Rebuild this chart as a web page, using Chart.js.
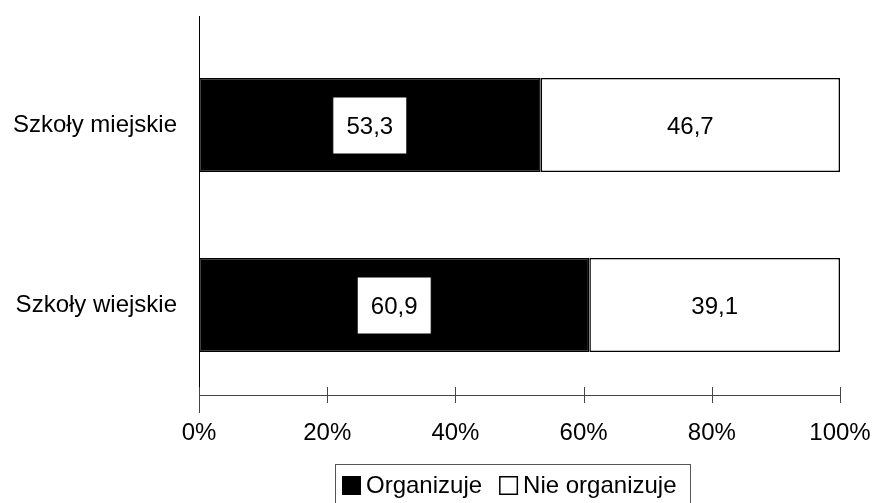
<!DOCTYPE html>
<html>
<head>
<meta charset="utf-8">
<script src="https://cdn.jsdelivr.net/npm/chart.js@4"></script>
<style>
  html, body { margin: 0; padding: 0; background: #fff; }
  #wrap { width: 874px; height: 503px; }
</style>
</head>
<body>
<div id="wrap"><canvas id="schoolsChart"></canvas></div>
<script>
const categories = ['Szkoły miejskie', 'Szkoły wiejskie'];
const organizuje = [53.3, 60.9];
const nieOrganizuje = [46.7, 39.1];
const seriesNames = ['Organizuje', 'Nie organizuje'];
const xTicks = [0, 20, 40, 60, 80, 100];

const FONT = "'Liberation Sans', Arial, sans-serif";

// etykiety wartości na słupkach
const valueLabels = {
    id: 'valueLabels',
    afterDatasetsDraw(chart) {
        const ctx = chart.ctx;
        ctx.save();
        ctx.font = '24px ' + FONT;
        ctx.textAlign = 'center';
        ctx.textBaseline = 'middle';
        chart.data.datasets.forEach(function (ds, di) {
            const meta = chart.getDatasetMeta(di);
            meta.data.forEach(function (bar, i) {
                const cx = (bar.x + bar.base) / 2;
                const cy = bar.y;
                const txt = ds.data[i].toFixed(1).replace('.', ',');
                if (di === 0) {
                    ctx.fillStyle = '#fff';
                    ctx.fillRect(cx - 37, cy - 28, 74, 57);
                    ctx.strokeStyle = '#000';
                    ctx.lineWidth = 1;
                    ctx.strokeRect(cx - 37, cy - 28, 74, 57);
                }
                ctx.fillStyle = '#000';
                ctx.fillText(txt, cx, cy + 2);
            });
        });
        ctx.restore();
    }
};

// oś Y wyższa niż obszar wykresu, znaczniki osi X, legenda w ramce
const extras = {
    id: 'extras',
    afterDraw(chart) {
        const ctx = chart.ctx;
        const area = chart.chartArea;
        const xs = chart.scales.x;
        ctx.save();
        ctx.strokeStyle = '#000';
        ctx.lineWidth = 1;
        ctx.beginPath();
        ctx.moveTo(area.left + 0.5, 16);
        ctx.lineTo(area.left + 0.5, area.top);
        ctx.stroke();

        ctx.strokeStyle = '#444';
        xTicks.forEach(function (v) {
            const px = Math.round(xs.getPixelForValue(v)) + 0.5;
            ctx.beginPath();
            ctx.moveTo(px, area.bottom - 8);
            ctx.lineTo(px, area.bottom + (v === 0 ? 18 : 8));
            ctx.stroke();
        });

        // legenda
        const bx = 335, by = 464, bw = 355, bh = 45;
        ctx.strokeStyle = '#555';
        ctx.lineWidth = 1;
        ctx.strokeRect(bx + 0.5, by + 0.5, bw, bh);
        ctx.font = '24px ' + FONT;
        ctx.textBaseline = 'middle';
        ctx.textAlign = 'left';
        let x = bx + 7;
        const cy = 485;
        chart.data.datasets.forEach(function (ds) {
            ctx.fillStyle = ds.backgroundColor;
            ctx.fillRect(x, cy - 9, 19, 19);
            ctx.strokeStyle = '#000';
            ctx.lineWidth = 1.5;
            ctx.strokeRect(x + 0.75, cy - 8.25, 17.5, 17.5);
            ctx.fillStyle = '#000';
            ctx.fillText(ds.label, x + 24, cy + 1);
            x += 24 + ctx.measureText(ds.label).width + 17;
        });
        ctx.restore();
    }
};

new Chart(document.getElementById('schoolsChart'), {
    type: 'bar',
    data: {
        labels: categories,
        datasets: [
            {
                label: seriesNames[0],
                data: organizuje,
                backgroundColor: '#000',
                borderColor: '#000',
                borderWidth: 1.5,
                borderSkipped: false,
                categoryPercentage: 1,
                barPercentage: 0.522
            },
            {
                label: seriesNames[1],
                data: nieOrganizuje,
                backgroundColor: '#fff',
                borderColor: '#000',
                borderWidth: 1.5,
                borderSkipped: false,
                categoryPercentage: 1,
                barPercentage: 0.522
            }
        ]
    },
    options: {
        indexAxis: 'y',
        responsive: true,
        maintainAspectRatio: false,
        animation: false,
        events: [],
        layout: { padding: { top: 35, right: 34, bottom: 0, left: 0 } },
        plugins: { legend: { display: false }, tooltip: { enabled: false } },
        scales: {
            x: {
                stacked: true,
                min: 0,
                max: 100,
                afterBuildTicks: function (axis) {
                    axis.ticks = xTicks.map(function (v) { return { value: v }; });
                },
                grid: { display: false, drawTicks: false },
                border: { color: '#444', width: 1 },
                ticks: {
                    color: '#000',
                    font: { family: FONT, size: 24 },
                    padding: 24,
                    maxRotation: 0,
                    callback: function (v) { return v + '%'; }
                },
                afterFit: function (axis) {
                    axis.height = 108;
                    axis.paddingLeft = 0;
                    axis.paddingRight = 0;
                }
            },
            y: {
                stacked: true,
                grid: { display: false },
                border: { color: '#000', width: 1 },
                ticks: {
                    color: '#000',
                    font: { family: FONT, size: 24 },
                    padding: 14
                },
                afterFit: function (axis) { axis.width = 199; }
            }
        }
    },
    plugins: [valueLabels, extras]
});
</script>
</body>
</html>
